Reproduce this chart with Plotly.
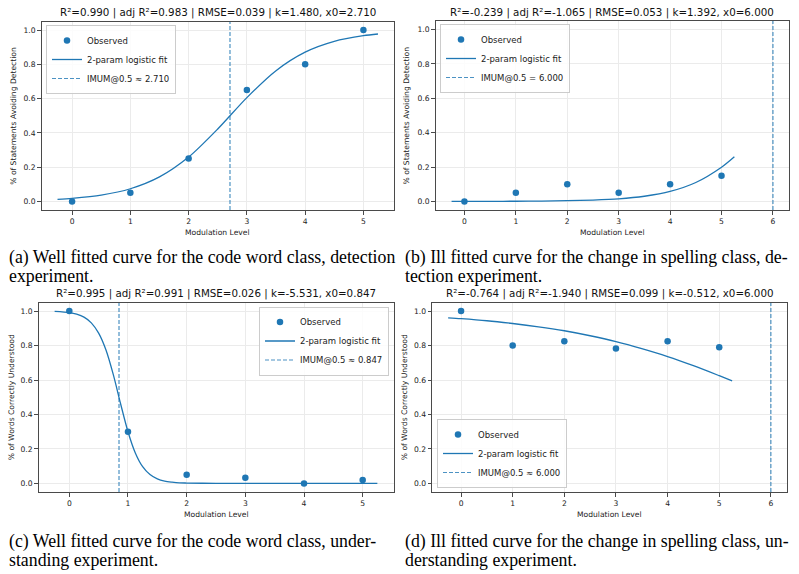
import plotly.graph_objects as go

# ---------------- data ----------------
levels = [0, 1, 2, 3, 4, 5]
obs_a = [0.0, 0.05, 0.25, 0.65, 0.80, 1.0]
obs_b = [0.0, 0.05, 0.10, 0.05, 0.10, 0.15]
obs_c = [1.0, 0.30, 0.05, 0.033, 0.0, 0.02]
obs_d = [1.0, 0.80, 0.825, 0.783, 0.825, 0.79]

fit_x = [-0.25, 0, 0.5, 1, 1.5, 2, 2.5, 3, 3.5, 4, 4.5, 5, 5.25]
fit_a = [0.012, 0.018, 0.037, 0.074, 0.143, 0.259, 0.423, 0.606, 0.763, 0.871, 0.934, 0.967, 0.977]
fit_b = [0.0002, 0.0002, 0.0005, 0.001, 0.002, 0.004, 0.008, 0.015, 0.030, 0.058, 0.110, 0.199, 0.260]
fit_d = [0.961, 0.956, 0.944, 0.928, 0.909, 0.886, 0.857, 0.823, 0.782, 0.736, 0.683, 0.625, 0.595]

fit_x_c = [-0.25, 0, 0.125, 0.25, 0.375, 0.5, 0.625, 0.75, 0.875, 1, 1.125, 1.25, 1.375,
           1.5, 1.625, 1.75, 1.875, 2, 2.5, 3, 3.5, 4, 4.5, 5, 5.25]
fit_c = [0.998, 0.991, 0.982, 0.965, 0.932, 0.872, 0.774, 0.631, 0.461, 0.300, 0.177, 0.097, 0.051,
         0.026, 0.013, 0.007, 0.003, 0.002, 0.0001, 0.0, 0.0, 0.0, 0.0, 0.0, 0.0]

imum = [2.710, 6.000, 0.847, 6.000]
imum_sym = ["≈", "=", "≈", "≈"]

titles = [
    "R²=0.990 | adj R²=0.983 | RMSE=0.039 | k=1.480, x0=2.710",
    "R²=-0.239 | adj R²=-1.065 | RMSE=0.053 | k=1.392, x0=6.000",
    "R²=0.995 | adj R²=0.991 | RMSE=0.026 | k=-5.531, x0=0.847",
    "R²=-0.764 | adj R²=-1.940 | RMSE=0.099 | k=-0.512, x0=6.000",
]
ylabels = ["% of Statements Avoiding Detection", "% of Statements Avoiding Detection",
           "% of Words Correctly Understood", "% of Words Correctly Understood"]
xlabel = "Modulation Level"
captions = [
    ["(a) Well fitted curve for the code word class, detection", "experiment."],
    ["(b) Ill fitted curve for the change in spelling class, de-", "tection experiment."],
    ["(c) Well fitted curve for the code word class, under-", "standing experiment."],
    ["(d) Ill fitted curve for the change in spelling class, un-", "derstanding experiment."],
]
yticks = [0.0, 0.2, 0.4, 0.6, 0.8, 1.0]
ylim = [-0.05, 1.05]

# ---------------- layout geometry (pixels) ----------------
W, H = 799, 574
boxes = [  # left, right, top, bottom
    (41.5, 394, 21.5, 210),
    (435.5, 789, 21, 210),
    (38.5, 393.5, 302.5, 492),
    (432, 787, 302.5, 492),
]
xranges = [[-0.525, 5.525], [-0.5625, 6.3125], [-0.525, 5.525], [-0.5625, 6.3125]]
xticks = [[0, 1, 2, 3, 4, 5], [0, 1, 2, 3, 4, 5, 6], [0, 1, 2, 3, 4, 5], [0, 1, 2, 3, 4, 5, 6]]

obs = [obs_a, obs_b, obs_c, obs_d]
fits = [(fit_x, fit_a), (fit_x, fit_b), (fit_x_c, fit_c), (fit_x, fit_d)]

BLUE = "#1f77b4"
DASH = "rgba(31,119,180,0.8)"
FONT = "DejaVu Sans"
SPINE = "#4a4a4a"

fig = go.Figure()
layout = dict(
    width=W, height=H, margin=dict(l=0, r=0, t=0, b=0),
    paper_bgcolor="white", plot_bgcolor="white", showlegend=True,
    font=dict(family=FONT, size=8, color="#222"),
)
annotations = []

legend_pos = [
    dict(x=46 / W, y=1 - 25 / H, xanchor="left", yanchor="top"),
    dict(x=440 / W, y=1 - 24 / H, xanchor="left", yanchor="top"),
    dict(x=389 / W, y=1 - 306.5 / H, xanchor="right", yanchor="top"),
    dict(x=437 / W, y=1 - 488 / H, xanchor="left", yanchor="bottom"),
]

for i in range(4):
    n = "" if i == 0 else str(i + 1)
    xa, ya = "x" + n, "y" + n
    leg = "legend" + n
    l, r, t, b = boxes[i]
    layout["xaxis" + n] = dict(
        domain=[l / W, r / W], anchor=ya, range=xranges[i], tickvals=xticks[i],
        showline=True, mirror=True, linecolor=SPINE, linewidth=1,
        ticks="outside", ticklen=3.5, tickwidth=0.8, tickcolor=SPINE,
        showgrid=True, gridcolor="#ebebeb", gridwidth=0.8, zeroline=False,
        tickfont=dict(family=FONT, size=7.6, color="#222"), fixedrange=True,
    )
    layout["yaxis" + n] = dict(
        domain=[1 - b / H, 1 - t / H], anchor=xa, range=ylim, tickvals=yticks,
        tickformat=".1f",
        showline=True, mirror=True, linecolor=SPINE, linewidth=1,
        ticks="outside", ticklen=3.5, tickwidth=0.8, tickcolor=SPINE,
        showgrid=True, gridcolor="#ebebeb", gridwidth=0.8, zeroline=False,
        tickfont=dict(family=FONT, size=7.6, color="#222"), fixedrange=True,
    )
    layout[leg] = dict(
        **legend_pos[i], bgcolor="rgba(255,255,255,0.85)", bordercolor="#cccccc",
        borderwidth=1, font=dict(family=FONT, size=8.5, color="#222"),
        tracegroupgap=0, itemwidth=30,
    )

    fig.add_trace(go.Scatter(
        x=levels, y=obs[i], mode="markers", name="Observed",
        marker=dict(color=BLUE, size=6.5), xaxis=xa, yaxis=ya, legend=leg,
    ))
    fx, fy = fits[i]
    fig.add_trace(go.Scatter(
        x=fx, y=fy, mode="lines", name="2-param logistic fit",
        line=dict(color=BLUE, width=1.3, shape="spline", smoothing=0.8),
        xaxis=xa, yaxis=ya, legend=leg,
    ))
    fig.add_trace(go.Scatter(
        x=[imum[i], imum[i]], y=ylim, mode="lines",
        name=f"IMUM@0.5 {imum_sym[i]} {imum[i]:.3f}",
        line=dict(color=DASH, width=1.2, dash="4px,2px"),
        xaxis=xa, yaxis=ya, legend=leg,
    ))

    cx = (l + r) / 2
    annotations.append(dict(
        text=titles[i], x=cx / W, y=1 - (t - 9) / H, xref="paper", yref="paper",
        xanchor="center", yanchor="middle", showarrow=False,
        font=dict(family=FONT, size=10.3, color="#111"),
    ))
    annotations.append(dict(
        text=xlabel, x=cx / W, y=1 - (b + 22) / H, xref="paper", yref="paper",
        xanchor="center", yanchor="middle", showarrow=False,
        font=dict(family=FONT, size=7.6, color="#222"),
    ))
    ylab_x = [14, 406, 11, 404][i]
    annotations.append(dict(
        text=ylabels[i], x=ylab_x / W, y=1 - ((t + b) / 2) / H, xref="paper", yref="paper",
        xanchor="center", yanchor="middle", showarrow=False, textangle=-90,
        font=dict(family=FONT, size=7.6, color="#222"),
    ))
    cap_x = [7, 403, 7, 403][i]
    cap_y = [257, 257, 541, 541][i]
    for j, line in enumerate(captions[i]):
        annotations.append(dict(
            text=line, x=cap_x / W, y=1 - (cap_y + 19 * j) / H, xref="paper", yref="paper",
            xanchor="left", yanchor="middle", showarrow=False,
            font=dict(family="Liberation Serif", size=17.8, color="#000"),
        ))

layout["annotations"] = annotations
fig.update_layout(**layout)
fig.write_html("out.html")
